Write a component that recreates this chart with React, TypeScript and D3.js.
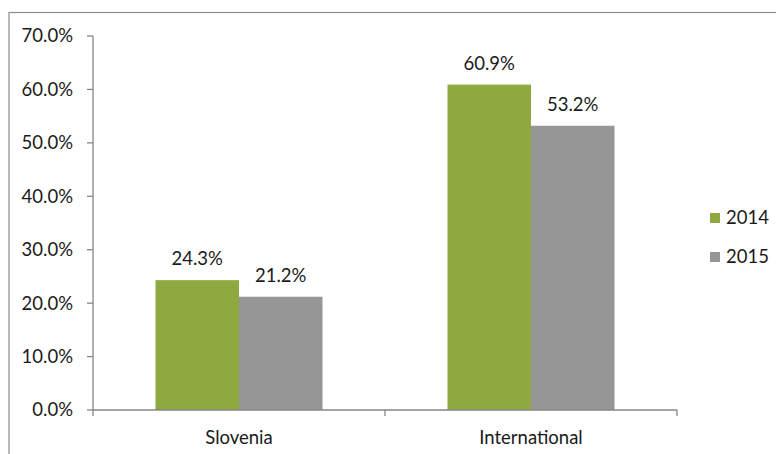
import React from "react";
import * as d3 from "d3";

const categories = ["Slovenia", "International"];
const seriesNames = ["2014", "2015"];
const values2014 = [24.3, 60.9];
const values2015 = [21.2, 53.2];
const yTicks = [0, 10, 20, 30, 40, 50, 60, 70];
const colors = ["#8EA93F", "#969696"];

export default function App() {
  const W = 776, H = 454;
  const left = 93, right = 677, top = 36, bottom = 410;
  const x = d3.scaleBand<string>().domain(categories).range([left, right]).paddingInner(0).paddingOuter(0);
  const y = d3.scaleLinear().domain([0, 70]).range([bottom, top]);
  const groupW = x.bandwidth() * 0.572;
  const barW = groupW / 2;
  const series = [values2014, values2015];
  const font = "Lato, 'Open Sans', sans-serif";
  const axisColor = "#868686";
  const fs = 18.5;
  return (
    <svg width={W} height={H} style={{ position: "absolute", left: 0, top: 0 }} fontFamily={font}>
      <rect x={0} y={0} width={W} height={H} fill="#fff" />
      <rect x={9} y={12.5} width={W + 20} height={H + 20} fill="none" stroke="#8c8c8c" strokeWidth={1.2} />
      {series.map((vals, si) =>
        vals.map((v, ci) => {
          const cx = x(categories[ci])! + x.bandwidth() / 2;
          const bx = cx - groupW / 2 + si * barW;
          return (
            <g key={`${si}-${ci}`}>
              <rect x={bx} y={y(v)} width={barW} height={bottom - y(v)} fill={colors[si]} />
              <text x={bx + barW / 2} y={y(v) - 15} textAnchor="middle" fontSize={fs} fill="#1a1a1a">
                {v.toFixed(1)}%
              </text>
            </g>
          );
        })
      )}
      <line x1={left} x2={left} y1={top} y2={bottom} stroke={axisColor} strokeWidth={1.3} />
      {yTicks.map((t) => (
        <g key={t}>
          <line x1={left - 6} x2={left} y1={y(t)} y2={y(t)} stroke={axisColor} strokeWidth={1.3} />
          <text x={73} y={y(t)} dy="0.35em" textAnchor="end" fontSize={fs} fill="#1a1a1a">
            {t.toFixed(1)}%
          </text>
        </g>
      ))}
      <line x1={left} x2={right} y1={bottom} y2={bottom} stroke={axisColor} strokeWidth={1.3} />
      {[left, x(categories[1])!, right].map((tx, i) => (
        <line key={i} x1={tx} x2={tx} y1={bottom} y2={bottom + 6} stroke={axisColor} strokeWidth={1.3} />
      ))}
      {categories.map((c) => (
        <text key={c} x={x(c)! + x.bandwidth() / 2} y={444} textAnchor="middle" fontSize={fs} fill="#1a1a1a">
          {c}
        </text>
      ))}
      {seriesNames.map((s, i) => (
        <g key={s}>
          <rect x={710} y={213 + i * 39} width={10} height={10} fill={colors[i]} />
          <text x={726} y={218 + i * 39} dy="0.35em" fontSize={fs} fill="#1a1a1a">{s}</text>
        </g>
      ))}
    </svg>
  );
}
